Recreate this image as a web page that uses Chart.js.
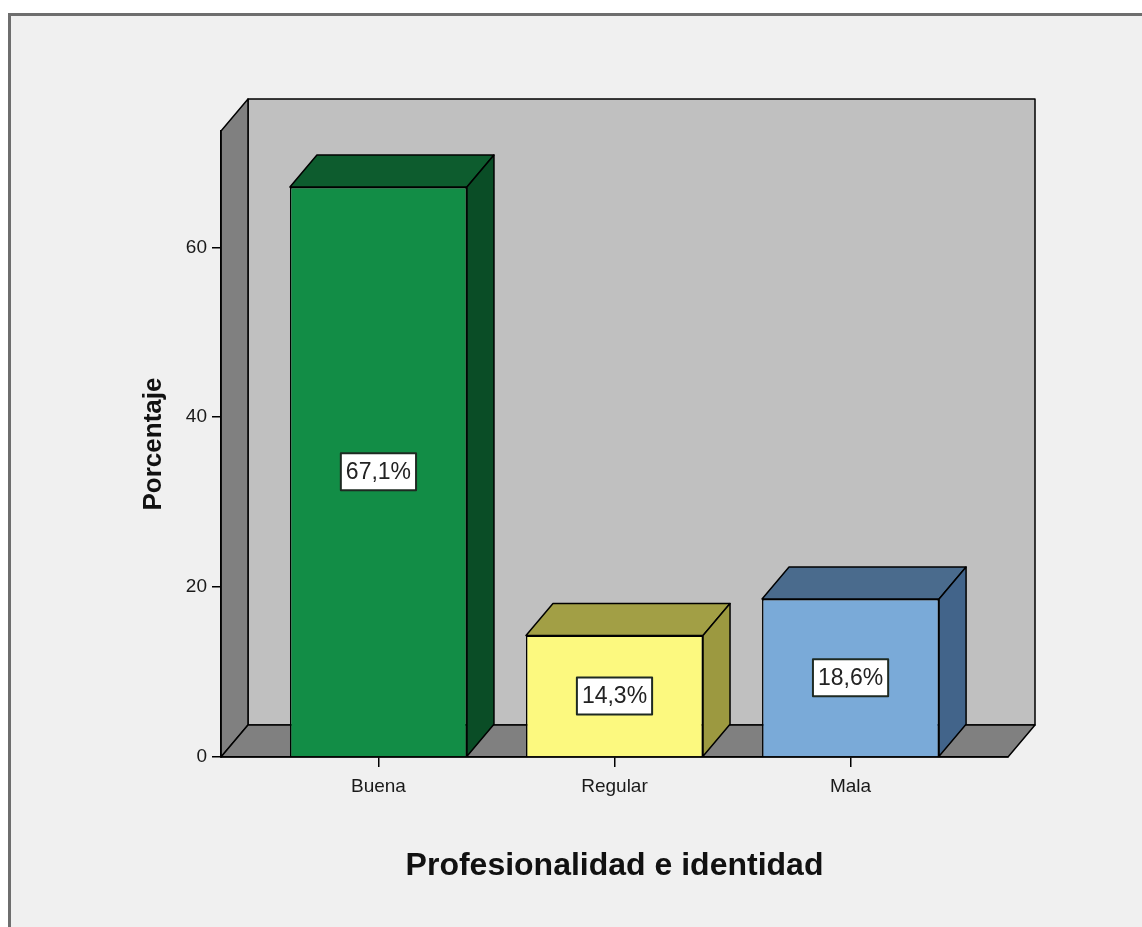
<!DOCTYPE html>
<html>
<head>
<meta charset="utf-8">
<script src="https://cdn.jsdelivr.net/npm/chart.js@4.4.1/dist/chart.umd.min.js"></script>
<style>
html,body{margin:0;padding:0;background:#fff;}
canvas{display:block;}
</style>
</head>
<body>
<canvas id="grafico" width="1142" height="927"></canvas>
<script>
var categorias = ['Buena', 'Regular', 'Mala'];
var porcentajes = [67.1, 14.3, 18.6];
var ticksY = [0, 20, 40, 60];

var colorFrente = ['#128d46', '#fcf97f', '#7aaad8'];
var colorTapa = ['#0d5c2e', '#a29f45', '#4a6b8d'];
var colorLado = ['#0a4d26', '#9c9940', '#42648a'];

// profundidad de la caja 3D
var DX = 27, DY = 32;
var fuente = '"Liberation Sans", Arial, sans-serif';

function etiqueta(v) { return v.toFixed(1).replace('.', ',') + '%'; }

function poligono(c, pts, relleno) {
  c.beginPath();
  c.moveTo(pts[0][0], pts[0][1]);
  for (var i = 1; i < pts.length; i++) c.lineTo(pts[i][0], pts[i][1]);
  c.closePath();
  c.fillStyle = relleno;
  c.fill();
  c.stroke();
}

var caja3d = {
  id: 'caja3d',
  beforeDraw: function (chart) {
    var c = chart.ctx, a = chart.chartArea;
    c.save();
    c.fillStyle = '#fff';
    c.fillRect(0, 0, chart.width, chart.height);
    c.fillStyle = '#f0f0f0';
    c.fillRect(9, 15, chart.width, chart.height);
    c.strokeStyle = '#6e6e6e';
    c.lineWidth = 3;
    c.beginPath();
    c.moveTo(9.5, chart.height + 5);
    c.lineTo(9.5, 14.5);
    c.lineTo(chart.width + 5, 14.5);
    c.stroke();

    c.strokeStyle = '#000';
    c.lineWidth = 1.5;
    c.lineJoin = 'round';
    // pared del fondo
    poligono(c, [[a.left + DX, a.top - DY], [a.right + DX, a.top - DY],
                 [a.right + DX, a.bottom - DY], [a.left + DX, a.bottom - DY]], '#c0c0c0');
    // pared izquierda
    poligono(c, [[a.left, a.bottom], [a.left, a.top], [a.left + DX, a.top - DY],
                 [a.left + DX, a.bottom - DY]], '#808080');
    // piso
    poligono(c, [[a.left, a.bottom], [a.right, a.bottom], [a.right + DX, a.bottom - DY],
                 [a.left + DX, a.bottom - DY]], '#808080');
    c.restore();
  },
  afterDatasetsDraw: function (chart) {
    var c = chart.ctx;
    var meta = chart.getDatasetMeta(0);
    c.save();
    c.strokeStyle = '#000';
    c.lineWidth = 1.5;
    c.lineJoin = 'round';
    meta.data.forEach(function (b, i) {
      var izq = b.x - b.width / 2, der = b.x + b.width / 2;
      poligono(c, [[izq, b.y], [der, b.y], [der + DX, b.y - DY], [izq + DX, b.y - DY]], colorTapa[i]);
      poligono(c, [[der, b.y], [der, b.base], [der + DX, b.base - DY], [der + DX, b.y - DY]], colorLado[i]);

      // recuadro con el porcentaje
      var txt = etiqueta(porcentajes[i]);
      c.font = '23px ' + fuente;
      var w = c.measureText(txt).width + 10, h = 37;
      var cy = (b.y + b.base) / 2;
      c.fillStyle = '#fff';
      c.fillRect(b.x - w / 2, cy - h / 2, w, h);
      c.lineWidth = 2;
      c.strokeStyle = '#1e2a22';
      c.strokeRect(b.x - w / 2, cy - h / 2, w, h);
      c.fillStyle = '#222';
      c.textAlign = 'center';
      c.textBaseline = 'middle';
      c.fillText(txt, b.x, cy + 1);
      c.lineWidth = 1.5;
      c.strokeStyle = '#000';
    });
    c.restore();
  }
};

new Chart(document.getElementById('grafico'), {
  type: 'bar',
  data: {
    datasets: [{
      data: porcentajes.map(function (v, i) { return { x: i, y: v }; }),
      backgroundColor: colorFrente,
      borderColor: '#000',
      borderWidth: 1.5,
      barPercentage: 0.75,
      categoryPercentage: 1
    }]
  },
  options: {
    responsive: false,
    animation: false,
    events: [],
    layout: { padding: { left: 0, right: 134, top: 131, bottom: 0 } },
    plugins: { legend: { display: false }, tooltip: { enabled: false } },
    scales: {
      x: {
        type: 'linear',
        offset: false,
        min: -0.667,
        max: 2.667,
        afterBuildTicks: function (s) { s.ticks = categorias.map(function (_, i) { return { value: i }; }); },
        afterFit: function (s) { s.height = 170; },
        grid: { offset: false, drawOnChartArea: false, drawTicks: true, tickLength: 10, color: '#000', lineWidth: 1.5 },
        border: { display: true, color: '#000', width: 1.5 },
        ticks: {
          autoSkip: false, maxRotation: 0, padding: 8,
          color: '#1a1a1a', font: { family: fuente, size: 19 },
          callback: function (v) { return categorias[v]; }
        },
        title: {
          display: true, text: 'Profesionalidad e identidad', color: '#111',
          font: { family: fuente, size: 32, weight: 'bold' },
          padding: { top: 0, bottom: 42 }
        }
      },
      y: {
        min: 0,
        max: 73.7,
        afterBuildTicks: function (s) { s.ticks = ticksY.map(function (v) { return { value: v }; }); },
        afterFit: function (s) { s.width = 221; },
        grid: { drawOnChartArea: false, drawTicks: true, tickLength: 9, color: '#000', lineWidth: 1.5 },
        border: { display: true, color: '#000', width: 1.5 },
        ticks: { padding: 5, color: '#1a1a1a', font: { family: fuente, size: 19 } },
        title: {
          display: true, text: 'Porcentaje', color: '#111',
          font: { family: fuente, size: 26, weight: 'bold' },
          padding: { top: 138, bottom: 0 }
        }
      }
    }
  },
  plugins: [caja3d]
});
</script>
</body>
</html>
